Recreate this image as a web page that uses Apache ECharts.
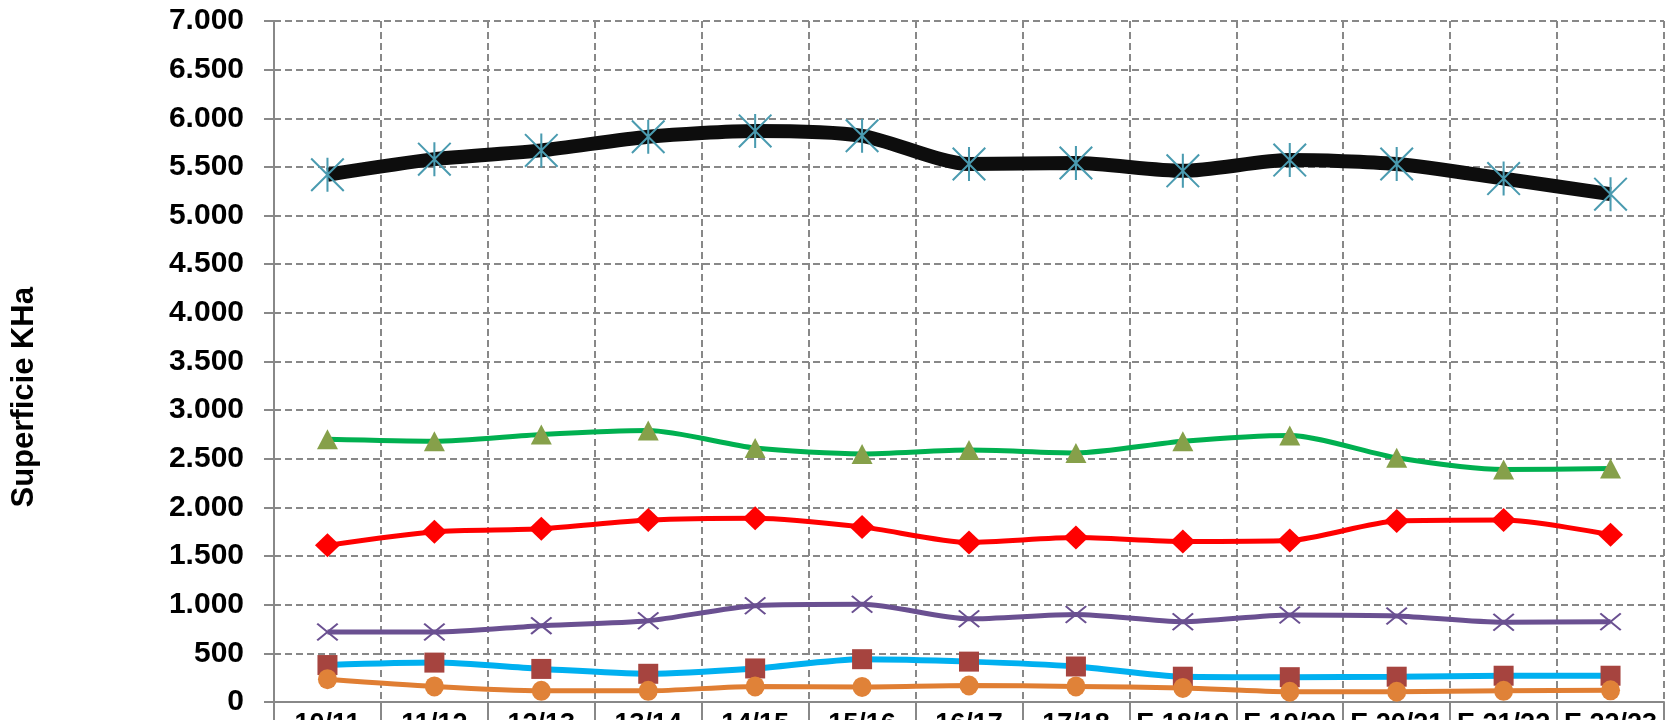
<!DOCTYPE html>
<html>
<head>
<meta charset="utf-8">
<script src="https://cdn.jsdelivr.net/npm/echarts@6/dist/echarts.min.js"></script>
<style>
html,body{margin:0;padding:0;background:#fff;}
#chart{width:1677px;height:720px;}
</style>
</head>
<body>
<div id="chart"></div>
<script>
var categories = ['10/11','11/12','12/13','13/14','14/15','15/16','16/17','17/18','E 18/19','E 19/20','E 20/21','E 21/22','E 22/23'];
var blackSeries  = [5420, 5580, 5670, 5810, 5870, 5820, 5530, 5540, 5460, 5570, 5530, 5380, 5220];
var greenSeries  = [2700, 2680, 2750, 2790, 2610, 2550, 2590, 2560, 2680, 2740, 2510, 2390, 2400];
var redSeries    = [1610, 1750, 1780, 1870, 1890, 1800, 1640, 1690, 1650, 1660, 1860, 1870, 1720];
var purpleSeries = [720, 720, 785, 835, 990, 1005, 855, 900, 825, 895, 885, 820, 825];
var blueSeries   = [380, 405, 340, 290, 345, 440, 415, 365, 260, 255, 260, 270, 270];
var orangeSeries = [235, 160, 115, 115, 160, 155, 170, 160, 145, 105, 105, 115, 120];
var yAxisTitle = 'Superficie KHa';

var FONT = '"Liberation Sans", Arial, sans-serif';
var asterisk = 'path://M47,0 L53,0 L53,100 L47,100 Z M0,4.2 L4.2,0 L100,95.8 L95.8,100 Z M95.8,0 L100,4.2 L4.2,100 L0,95.8 Z';
var xMark = 'path://M0,7 L7,0 L100,93 L93,100 Z M93,0 L100,7 L7,100 L0,93 Z';

var chart = echarts.init(document.getElementById('chart'), null, {renderer:'canvas'});
chart.setOption({
  animation:false,
  backgroundColor:'#ffffff',
  grid:{left:274, right:13, top:21, bottom:18, containLabel:false, outerBoundsMode:'none'},
  xAxis:{
    type:'category',
    data:categories,
    boundaryGap:true,
    axisLine:{show:true, lineStyle:{color:'#888888', width:2}},
    axisTick:{show:true, length:20, alignWithLabel:false, lineStyle:{color:'#888888', width:2}},
    axisLabel:{color:'#000', fontFamily:FONT, fontWeight:'bold', fontSize:27, margin:9, interval:0},
    splitLine:{show:true, lineStyle:{color:'#888888', width:2, type:[7,4]}}
  },
  yAxis:{
    type:'value',
    min:0, max:7000, interval:500,
    axisLine:{show:true, lineStyle:{color:'#888888', width:2}},
    axisTick:{show:true, length:10, lineStyle:{color:'#888888', width:2}},
    axisLabel:{color:'#000', fontFamily:FONT, fontWeight:'bold', fontSize:30, margin:30,
      formatter:function(v){ return String(v).replace(/\B(?=(\d{3})+(?!\d))/g,'.'); }},
    splitLine:{show:true, lineStyle:{color:'#888888', width:2, type:[7,4]}}
  },
  graphic:[{
    type:'text', left:9, top:287,
    rotation:Math.PI/2, originX:0, originY:0,
    style:{text:yAxisTitle, font:'bold 31px '+FONT, fill:'#000'}
  }],
  series:[
    {type:'line', data:blackSeries, smooth:0.25, symbol:asterisk, symbolSize:[34,34],
     lineStyle:{color:'#0d0d0d', width:14}, itemStyle:{color:'#4a9bb0'}, z:2},
    {type:'line', data:greenSeries, smooth:0.25, symbol:'triangle', symbolSize:[21,20],
     lineStyle:{color:'#00b050', width:5}, itemStyle:{color:'#86a04a'}, z:3},
    {type:'line', data:redSeries, smooth:0.25, symbol:'diamond', symbolSize:[25,24],
     lineStyle:{color:'#ff0000', width:5}, itemStyle:{color:'#ff0000'}, z:4},
    {type:'line', data:purpleSeries, smooth:0.25, symbol:xMark, symbolSize:[22,18],
     lineStyle:{color:'#6a5091', width:5}, itemStyle:{color:'#6a5091'}, z:5},
    {type:'line', data:blueSeries, smooth:0.25, symbol:'rect', symbolSize:[20,20],
     lineStyle:{color:'#00b0f0', width:6}, itemStyle:{color:'#a6443f'}, z:6},
    {type:'line', data:orangeSeries, smooth:0.25, symbol:'circle', symbolSize:[19,20],
     lineStyle:{color:'#e07e33', width:5}, itemStyle:{color:'#e08238'}, z:7}
  ]
});
</script>
</body>
</html>
